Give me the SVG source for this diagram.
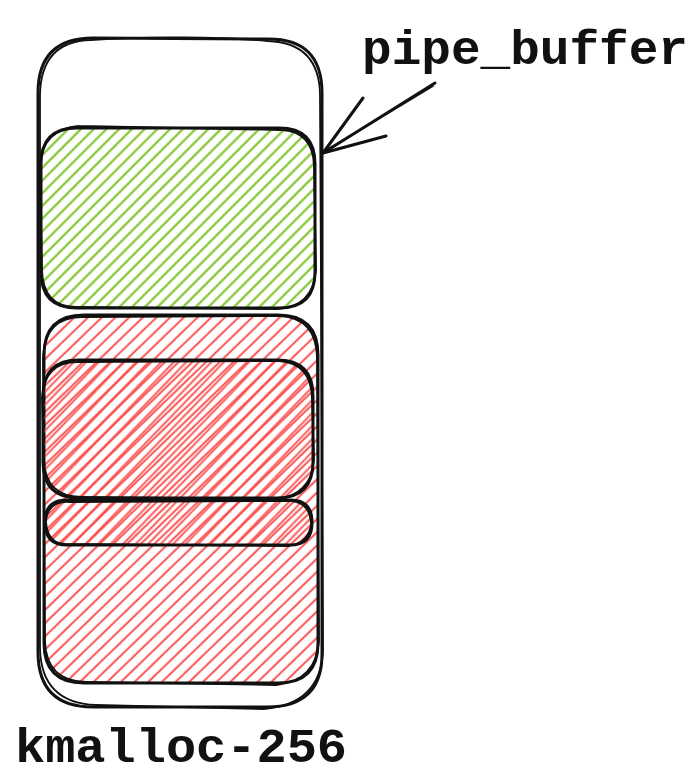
<svg xmlns="http://www.w3.org/2000/svg" width="700" height="778" viewBox="0 0 700 778">
  <style>
    .ol { fill: none; stroke: #111; stroke-width: 3; stroke-linecap: round; stroke-linejoin: round; }
    .ol2 { fill: none; stroke: #111; stroke-width: 1.8; stroke-linecap: round; stroke-linejoin: round; }
    .lbl { font-family: "Liberation Mono", "DejaVu Sans Mono", monospace; font-weight: bold; fill: #111; }
  </style>
  <defs>
    <pattern id="hg" width="9" height="9" patternUnits="userSpaceOnUse" patternTransform="rotate(-45)">
      <line x1="-1" y1="4.5" x2="10" y2="4.5" stroke="#74c01a" stroke-width="2"/>
    </pattern>
    <pattern id="hr" width="9" height="9.5" patternUnits="userSpaceOnUse" patternTransform="rotate(-44)">
      <line x1="-1" y1="4.5" x2="10" y2="4.5" stroke="#fa4b4b" stroke-width="1.9"/>
    </pattern>
    <pattern id="hr2" width="9" height="9" patternUnits="userSpaceOnUse" patternTransform="rotate(-46) translate(0,3)">
      <line x1="-1" y1="4.5" x2="10" y2="4.5" stroke="#fa4b4b" stroke-width="1.8"/>
    </pattern>
  </defs>
  <rect width="700" height="778" fill="#fff"/>

  <g id="kmalloc-256-slab">
    <path class="ol" d="M93,38 L267,39 Q322,38 322,93 L322,652 Q323,707 267,707 L93,707 Q38,707 38,652 L38,93 Q38,38 93,38 Z"/>
    <path class="ol2" d="M91,40 C150,36 220,37 268,41 Q320,43 320,96 L323,650 Q321,704 264,709 L96,705 Q41,703 40,648 L40,95 Q41,41 91,40"/>
  </g>

  <g id="green-slot">
    <path d="M77,128 L279,128 Q315,128 315,164 L315,272 Q315,308 279,308 L77,308 Q41,308 41,272 L41,164 Q41,128 77,128 Z" fill="url(#hg)"/>
    <path class="ol" d="M77,128 L279,128 Q315,128 315,164 L315,272 Q315,308 279,308 L77,308 Q41,308 41,272 L41,164 Q41,128 77,128 Z"/>
    <path class="ol2" d="M79,126 L281,130 Q313,131 314,166 L316,270 Q313,307 277,309 L75,307 Q43,306 42,270 L40,166 Q42,129 79,126"/>
  </g>

  <g id="red-slot-1">
    <path d="M84,315 L278,315 Q318,315 318,355 L318,643 Q318,683 278,683 L84,683 Q44,683 44,643 L44,355 Q44,315 84,315 Z" fill="url(#hr)"/>
    <path class="ol" d="M84,315 L278,315 Q318,315 318,355 L318,643 Q318,683 278,683 L84,683 Q44,683 44,643 L44,355 Q44,315 84,315 Z"/>
    <path class="ol2" d="M82,317 L280,316 Q316,318 317,357 L319,641 Q316,681 276,685 L86,682 Q46,681 45,641 L43,357 Q45,317 82,317"/>
  </g>

  <g id="red-slot-2">
    <path d="M79,360 L277,360 Q313,360 313,396 L313,462 Q313,498 277,498 L79,498 Q43,498 43,462 L43,396 Q43,360 79,360 Z" fill="url(#hr2)"/>
    <path class="ol" d="M79,360 L277,360 Q313,360 313,396 L313,462 Q313,498 277,498 L79,498 Q43,498 43,462 L43,396 Q43,360 79,360 Z"/>
    <path class="ol2" d="M77,362 L279,361 Q311,363 312,398 L314,460 Q311,496 275,499 L81,497 Q45,496 44,460 L42,398 Q44,362 77,362"/>
  </g>

  <g id="red-slot-3">
    <path d="M67,500 L290,500 Q312,500 312,522 L312,523 Q312,545 290,545 L67,545 Q45,545 45,523 L45,522 Q45,500 67,500 Z" fill="url(#hr2)"/>
    <path class="ol" d="M67,500 L290,500 Q312,500 312,522 L312,523 Q312,545 290,545 L67,545 Q45,545 45,523 L45,522 Q45,500 67,500 Z"/>
    <path class="ol2" d="M69,502 L292,501 Q310,503 311,524 Q309,543 288,546 L65,544 Q47,543 46,521 Q48,501 69,502"/>
  </g>

  <g id="connectors">
    <path class="ol" d="M435,83 L323,153"/>
    <path class="ol2" d="M433,86 L325,151"/>
    <path class="ol" d="M363,98 L323,153 L386,136"/>
  </g>

  <g id="labels">
    <text class="lbl" x="362" y="64" font-size="49" textLength="326" lengthAdjust="spacingAndGlyphs">pipe_buffer</text>
    <text class="lbl" x="15" y="762" font-size="48" textLength="332" lengthAdjust="spacingAndGlyphs">kmalloc-256</text>
  </g>
</svg>
